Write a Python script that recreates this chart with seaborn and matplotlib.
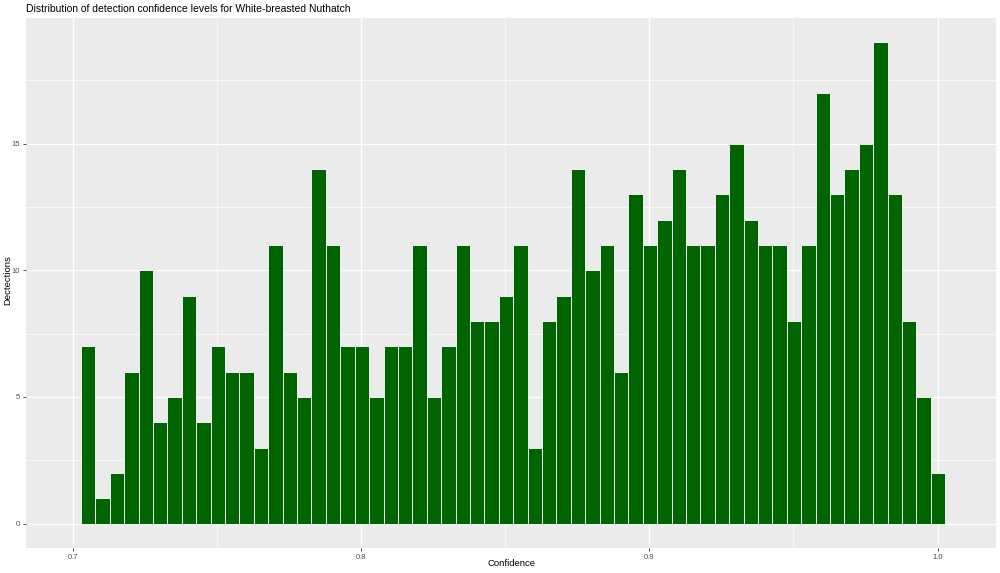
import numpy as np
import pandas as pd
import seaborn as sns
import matplotlib.pyplot as plt
from matplotlib.ticker import MultipleLocator

# Histogram counts (60 bins of width 0.005)
bin_start = 0.7027
bin_width = 0.005
counts = [7, 1, 2, 6, 10, 4, 5, 9, 4, 7, 6, 6, 3, 11, 6, 5, 14, 11, 7, 7,
          5, 7, 7, 11, 5, 7, 11, 8, 8, 9, 11, 3, 8, 9, 14, 10, 11, 6, 13, 11,
          12, 14, 11, 11, 13, 15, 12, 11, 11, 8, 11, 17, 13, 14, 15, 19, 13, 8, 5, 2]
x_ticks = [0.7, 0.8, 0.9, 1.0]
y_ticks = [0, 5, 10, 15]

title = "Distribution of detection confidence levels for White-breasted Nuthatch"
x_label = "Confidence"
y_label = "Dectections"

edges = list(bin_start + bin_width * np.arange(len(counts) + 1))
df = pd.DataFrame({"confidence": np.array(edges[:-1]) + bin_width / 2,
                   "n": counts})

sns.set_theme(style="darkgrid")
plt.rcParams['font.family'] = ['Liberation Sans', 'DejaVu Sans']

fig = plt.figure(figsize=(10, 5.73), dpi=100)
ax = fig.add_axes([0.026, 0.0442, 0.9697, 0.9244])
ax.set_facecolor("#EBEBEB")

sns.histplot(data=df, x="confidence", weights="n", bins=edges, color="#006400",
             edgecolor="white", linewidth=0.6, alpha=1, ax=ax, zorder=3)

ax.set_xlim(0.6836, 1.0202)
ax.set_ylim(-0.95, 19.96)
ax.set_xticks(x_ticks)
ax.set_xticklabels([f"{v:.1f}" for v in x_ticks])
ax.set_yticks(y_ticks)
ax.xaxis.set_minor_locator(MultipleLocator(0.05))
ax.yaxis.set_minor_locator(MultipleLocator(2.5))
ax.grid(which="major", color="white", linewidth=1.0, zorder=0)
ax.grid(which="minor", color="white", linewidth=0.5, zorder=0)
ax.set_axisbelow(True)
for s in ax.spines.values():
    s.set_visible(False)

ax.tick_params(which="major", length=2.5, width=0.6, color="#333333",
               labelsize=5.5, labelcolor="#4D4D4D", pad=2,
               bottom=True, left=True)
ax.tick_params(which="minor", length=0)
ax.set_xlabel("")
ax.set_ylabel("")

fig.text(0.511, 1 - 564 / 573, x_label, ha="center", va="center",
         fontsize=6.8, color="black")
fig.text(0.0075, 1 - 280 / 573, y_label, ha="center", va="center",
         rotation=90, fontsize=6.8, color="black")
fig.text(0.026, 1 - 8.5 / 573, title, ha="left", va="center",
         fontsize=7.5, color="black")

fig.savefig("out.png", dpi=100, facecolor="white")
